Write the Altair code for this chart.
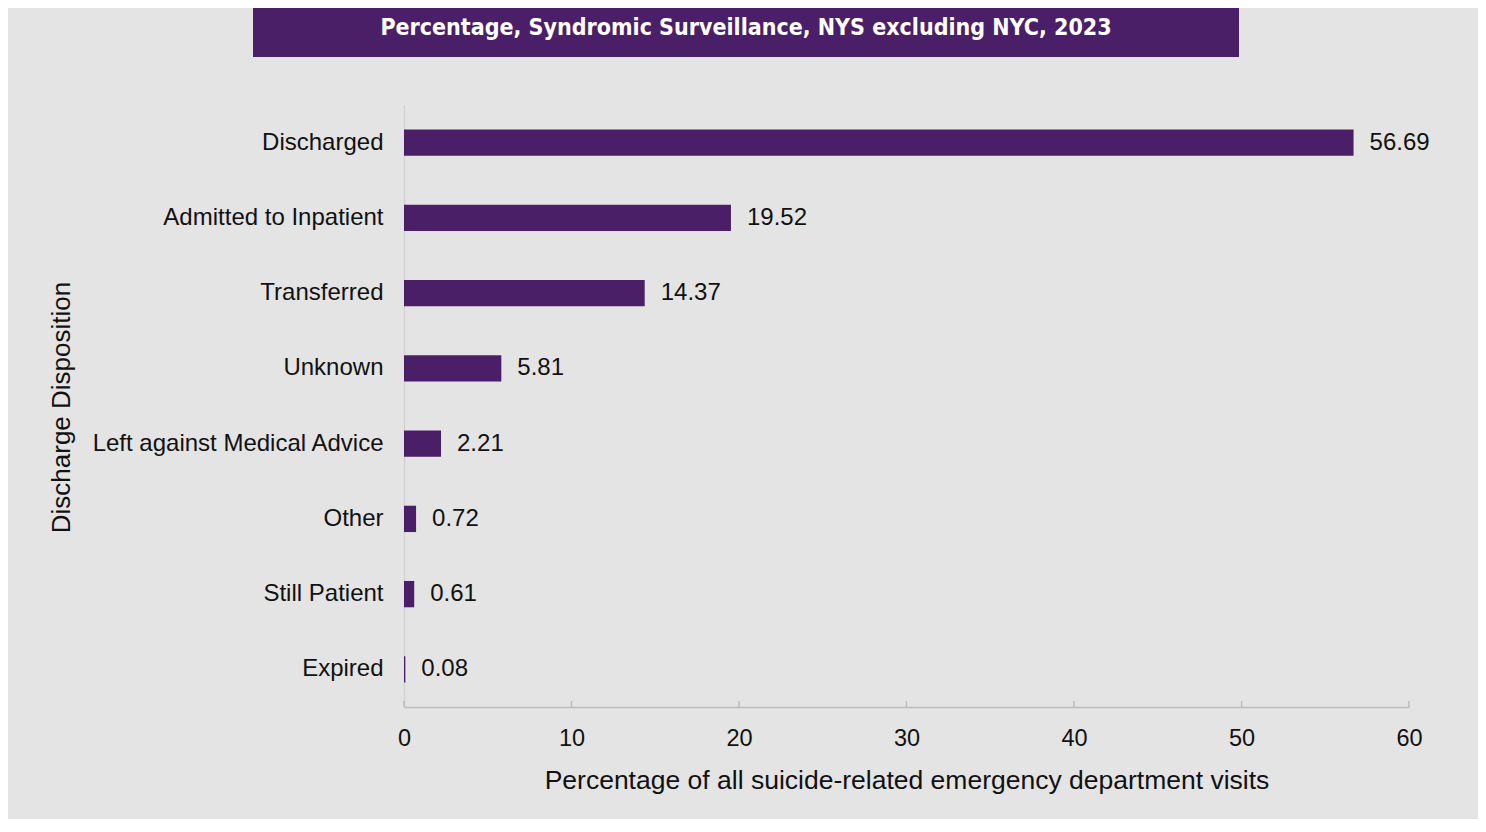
import altair as alt
import pandas as pd

categories = ["Discharged", "Admitted to Inpatient", "Transferred", "Unknown",
              "Left against Medical Advice", "Other", "Still Patient", "Expired"]
values = [56.69, 19.52, 14.37, 5.81, 2.21, 0.72, 0.61, 0.08]
x_ticks = [0, 10, 20, 30, 40, 50, 60]
title_text = ["Percentage, Syndromic Surveillance, NYS excluding NYC, 2023"]

PURPLE = "#4b1f68"
BG = "#e4e4e4"
FONT = "Liberation Sans"

df = pd.DataFrame({"cat": categories, "val": values,
                   "lab": [f"{v:.2f}" for v in values]})
ticks_df = pd.DataFrame({"t": x_ticks})
title_df = pd.DataFrame({"title": title_text})

W, H = 1005, 602

xscale = alt.Scale(domain=[0, 60], nice=False)
yscale = alt.Scale(domain=categories, paddingInner=0.65, paddingOuter=0.325)

bars = alt.Chart(df).mark_bar(color=PURPLE).encode(
    x=alt.X("val:Q", scale=xscale,
            axis=alt.Axis(values=x_ticks, title="Percentage of all suicide-related emergency department visits",
                          grid=False, tickSize=0, labelPadding=19, labelFontSize=23.5,
                          labelFlush=False, labelOverlap=False,
                          labelFont=FONT, labelColor="#111", domainColor="#bdbdbd", domainWidth=1.5,
                          titleFont=FONT, titleFontSize=26.5, titleFontWeight="normal", titleColor="#111",
                          titleY=73, titleBaseline="middle")),
    y=alt.Y("cat:N", scale=yscale, sort=categories,
            axis=alt.Axis(title="Discharge Disposition", tickSize=0, labelPadding=21, labelFontSize=24,
                          labelFont=FONT, labelColor="#111", domainColor="#d2d2d2", domainWidth=1.5,
                          labelLimit=400,
                          titleFont=FONT, titleFontSize=26, titleFontWeight="normal", titleColor="#111",
                          titleAngle=270, titleX=-343, titleY=302, titleAlign="center",
                          titleBaseline="middle")),
)

labels = alt.Chart(df).mark_text(align="left", baseline="middle", dx=16, fontSize=24,
                                 font=FONT, color="#111").encode(
    x=alt.X("val:Q", scale=xscale),
    y=alt.Y("cat:N", scale=yscale, sort=categories),
    text="lab:N",
)

tick_marks = alt.Chart(ticks_df).mark_rule(color="#bdbdbd", strokeWidth=1.5).encode(
    x=alt.X("t:Q", scale=xscale),
    y=alt.value(H - 6),
    y2=alt.value(H),
)

title_box = alt.Chart(title_df).mark_rect(color=PURPLE).encode(
    x=alt.value(-151), x2=alt.value(835),
    y=alt.value(-97), y2=alt.value(-48),
)

title_txt = alt.Chart(title_df).mark_text(font="DejaVu Sans Condensed", fontWeight="bold",
                                          fontSize=23, color="white", align="center",
                                          baseline="middle").encode(
    x=alt.value(342), y=alt.value(-77), text="title:N",
)

chart = alt.layer(title_box, title_txt, bars, labels, tick_marks).properties(
    width=W, height=H,
    autosize=alt.AutoSizeParams(type="none"),
    padding={"left": 396, "top": 97, "right": 69, "bottom": 112},
    background=BG,
).configure_view(stroke=None)

chart.save("out.html", embed_options={"renderer": "svg", "actions": False})
